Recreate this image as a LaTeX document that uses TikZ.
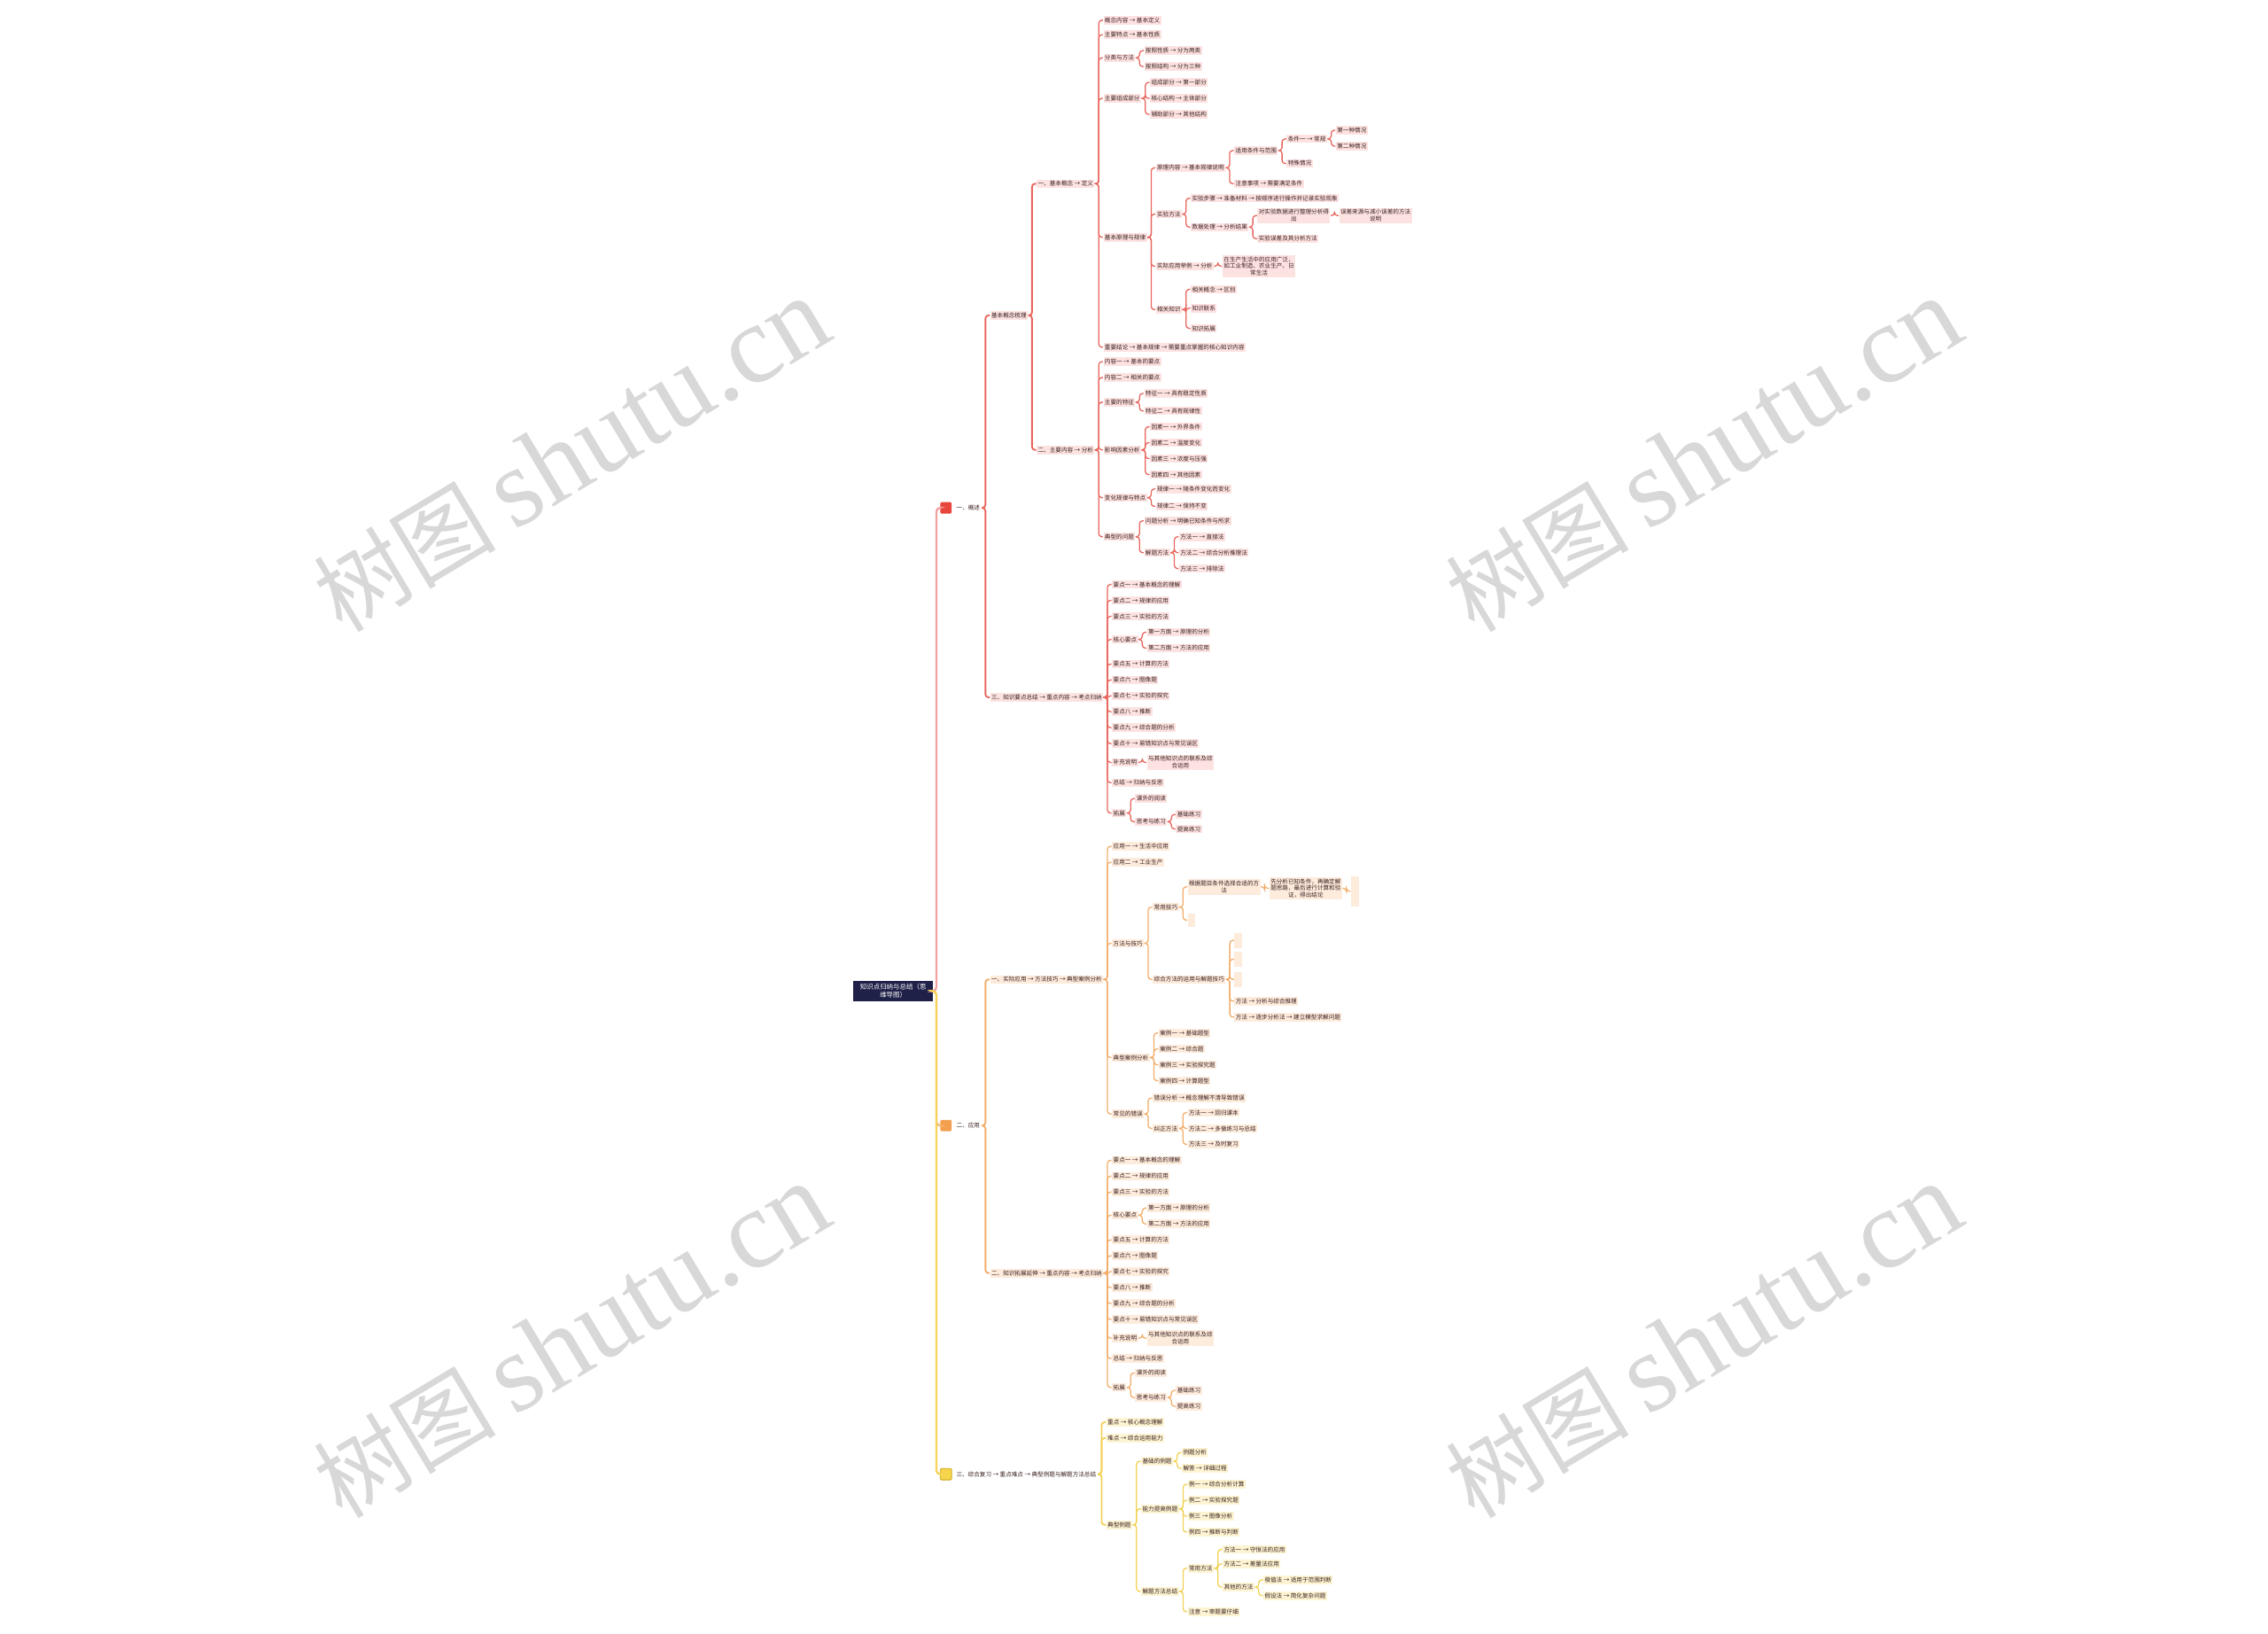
\documentclass[tikz,border=0pt]{standalone}
\usepackage{fontspec}
\newfontfamily\cjk{Noto Sans CJK SC}
\newfontfamily\wmlat{Liberation Serif}
\definecolor{navy}{HTML}{1F2148}
\definecolor{sqred}{HTML}{E8453C}
\definecolor{sqor}{HTML}{F3A04E}
\definecolor{sqye}{HTML}{F7D54A}
\definecolor{yedge}{HTML}{C9A420}
\definecolor{rline}{HTML}{E8675E}
\definecolor{rfill}{HTML}{FCE3E1}
\definecolor{oline}{HTML}{F2AE6C}
\definecolor{ofill}{HTML}{FDEBDC}
\definecolor{yline}{HTML}{F2D255}
\definecolor{yfill}{HTML}{FCF4D2}
\definecolor{txt}{HTML}{3B2020}
\definecolor{spineR}{HTML}{F2A0A0}
\definecolor{spineO}{HTML}{F4B878}
\definecolor{spineY}{HTML}{F6D45C}
\definecolor{wmgray}{HTML}{D8D8D8}
\newcommand\kd[5][]{%
  \path (#2.east) ++(5.5,0) coordinate (kdtmp);
  \node[nd,#1] (#3) at (kdtmp |- 0,#4) {#5};
  \draw[ln] (#2.east) -- ++(2.6,0) |- (#3.west);
}
\newcommand\kdw[5][]{%
  \path (#2.east) ++(5.5,0) coordinate (kdtmp);
  \node[nd,#1] (#3) at (kdtmp |- 0,#4) {#5};
  \draw[ln, line width=0.65pt] (#2.east) -- ++(2.6,0) |- (#3.west);
}
\tikzset{
  base/.style={anchor=west, inner xsep=0.5pt, inner ysep=0.6pt, text=txt, align=center,
    font=\cjk\fontsize{2.3}{2.75}\selectfont},
  rootbox/.style={fill=navy, text=white, align=center, minimum width=31.3pt, minimum height=8pt,
    inner sep=0.5pt, font=\cjk\fontsize{2.6}{3.1}\selectfont},
  sq/.style={minimum size=4.5pt, inner sep=0pt, rounded corners=0.5pt},
  spine/.style={line width=0.8pt, rounded corners=1.5pt},
  wm/.style={text=wmgray, inner sep=0pt}
}
\begin{document}
\begin{tikzpicture}[x=0.02cm,y=-0.02cm]
\fill[white] (0,0) rectangle (1568,1129);
\useasboundingbox (0,0) rectangle (1568,1129);

% watermarks
\foreach \wx/\wy in {395/315, 1178/315, 395/927, 1178/927}{
  \node[wm, rotate=31] at (\wx,\wy) {{\cjk\fontsize{36}{38}\selectfont 树图}\hspace{7pt}{\wmlat\fontsize{44}{46}\selectfont shutu.cn}};
}

% root and level-1 squares
\node[rootbox] (root) at (617.5,685) {知识点归纳与总结（思\\维导图）};
\node[sq, fill=sqred] (R) at (654,351) {};
\node[sq, fill=sqor] (O) at (654,778) {};
\node[sq, fill=sqye, draw=yedge, line width=0.3pt] (Y) at (654,1019) {};
\draw[spine, draw=spineR] (root.east) -- ++(2,0) |- (R.west);
\draw[spine, draw=spineO] (root.east) -- ++(2,0) |- (O.west);
\draw[spine, draw=spineY] (root.east) -- ++(2,0) |- (Y.west);

% ===== red branch =====
\begin{scope}[nd/.style={base, fill=rfill}, ln/.style={draw=rline, line width=0.45pt, rounded corners=1.2pt}]
\node[base] (Rl) at ([xshift=1pt]R.east) {一、概述};
\kdw{Rl}{A1}{218}{基本概念梳理}
\kdw{A1}{A1a}{127}{一、基本概念 → 定义}
\kd{A1a}{r1}{14}{概念内容 → 基本定义}
\kd{A1a}{r2}{24}{主要特点 → 基本性质}
\kd{A1a}{r3}{40}{分类与方法}
\kd{r3}{r4}{35}{按照性质 → 分为两类}
\kd{r3}{r5}{46}{按照结构 → 分为三种}
\kd{A1a}{r6}{68}{主要组成部分}
\kd{r6}{r7}{57}{组成部分 → 第一部分}
\kd{r6}{r8}{68}{核心结构 → 主体部分}
\kd{r6}{r9}{79}{辅助部分 → 其他结构}
\kd{A1a}{r10}{164}{基本原理与规律}
\kd{r10}{r11}{116}{原理内容 → 基本规律说明}
\kd{r11}{r12}{104}{适用条件与范围}
\kd{r12}{r13}{96}{条件一 → 常规}
\kd{r13}{r14}{90}{第一种情况}
\kd{r13}{r15}{101}{第二种情况}
\kd{r12}{r16}{113}{特殊情况}
\kd{r11}{r17}{127}{注意事项 → 需要满足条件}
\kd{r10}{r18}{148}{实验方法}
\kd{r18}{r19}{137}{实验步骤 → 准备材料 → 按顺序进行操作并记录实验现象}
\kd{r18}{r20}{157}{数据处理 → 分析结果}
\kd{r20}{r21}{149}{对实验数据进行整理分析得\\出}
\kd{r21}{r22}{149}{误差来源与减小误差的方法\\说明}
\kd{r20}{r23}{165}{实验误差及其分析方法}
\kd{r10}{r24}{184}{实际应用举例 → 分析}
\kd{r24}{r25}{184}{在生产生活中的应用广泛，\\如工业制造、农业生产、日\\常生活}
\kd{r10}{r26}{214}{相关知识}
\kd{r26}{r27}{200}{相关概念 → 区别}
\kd{r26}{r28}{213}{知识联系}
\kd{r26}{r29}{227}{知识拓展}
\kd{A1a}{r30}{240}{重要结论 → 基本规律 → 需要重点掌握的核心知识内容}
\kdw{A1}{A1b}{311}{二、主要内容 → 分析}
\kd{A1b}{r31}{250}{内容一 → 基本的要点}
\kd{A1b}{r32}{261}{内容二 → 相关的要点}
\kd{A1b}{r33}{278}{主要的特征}
\kd{r33}{r34}{272}{特征一 → 具有稳定性质}
\kd{r33}{r35}{284}{特征二 → 具有规律性}
\kd{A1b}{r36}{311}{影响因素分析}
\kd{r36}{r37}{295}{因素一 → 外界条件}
\kd{r36}{r38}{306}{因素二 → 温度变化}
\kd{r36}{r39}{317}{因素三 → 浓度与压强}
\kd{r36}{r40}{328}{因素四 → 其他因素}
\kd{A1b}{r41}{344}{变化规律与特点}
\kd{r41}{r42}{338}{规律一 → 随条件变化而变化}
\kd{r41}{r43}{350}{规律二 → 保持不变}
\kd{A1b}{r44}{371}{典型的问题}
\kd{r44}{r45}{360}{问题分析 → 明确已知条件与所求}
\kd{r44}{r46}{382}{解题方法}
\kd{r46}{r47}{371}{方法一 → 直接法}
\kd{r46}{r48}{382}{方法二 → 综合分析推理法}
\kd{r46}{r49}{393}{方法三 → 排除法}
\kdw{Rl}{A2}{482}{三、知识要点总结 → 重点内容 → 考点归纳}
\kd{A2}{s1}{404}{要点一 → 基本概念的理解}
\kd{A2}{s2}{415}{要点二 → 规律的应用}
\kd{A2}{s3}{426}{要点三 → 实验的方法}
\kd{A2}{s4}{442}{核心要点}
\kd{s4}{s5}{437}{第一方面 → 原理的分析}
\kd{s4}{s6}{448}{第二方面 → 方法的应用}
\kd{A2}{s7}{459}{要点五 → 计算的方法}
\kd{A2}{s8}{470}{要点六 → 图像题}
\kd{A2}{s9}{481}{要点七 → 实验的探究}
\kd{A2}{s10}{492}{要点八 → 推断}
\kd{A2}{s11}{503}{要点九 → 综合题的分析}
\kd{A2}{s12}{514}{要点十 → 易错知识点与常见误区}
\kd{A2}{s13}{527}{补充说明}
\kd{s13}{s14}{527}{与其他知识点的联系及综\\合运用}
\kd{A2}{s15}{541}{总结 → 归纳与反思}
\kd{A2}{s16}{562}{拓展}
\kd{s16}{s17}{552}{课外的阅读}
\kd{s16}{s18}{568}{思考与练习}
\kd{s18}{s19}{563}{基础练习}
\kd{s18}{s20}{573}{提高练习}
\end{scope}

% ===== orange branch =====
\begin{scope}[nd/.style={base, fill=ofill}, ln/.style={draw=oline, line width=0.45pt, rounded corners=1.2pt}]
\node[base] (Ol) at ([xshift=1pt]O.east) {二、应用};
\kdw{Ol}{B1}{677}{一、实际应用 → 方法技巧 → 典型案例分析}
\kd{B1}{o1}{585}{应用一 → 生活中应用}
\kd{B1}{o2}{596}{应用二 → 工业生产}
\kd{B1}{o3}{652}{方法与技巧}
\kd{o3}{o4}{627}{常用技巧}
\kd{o4}{o5}{613}{根据题目条件选择合适的方\\法}
\kd{o5}{o6}{614}{先分析已知条件，再确定解\\题思路，最后进行计算和验\\证，得出结论}
\kd[minimum width=3pt, minimum height=12pt]{o6}{o7}{616}{}
\kd[minimum width=3pt, minimum height=5pt]{o4}{o8}{636}{}
\kd{o3}{o9}{677}{综合方法的运用与解题技巧}
\kd[minimum width=3pt, minimum height=6pt]{o9}{o10}{650}{}
\kd[minimum width=3pt, minimum height=6pt]{o9}{o11}{663}{}
\kd[minimum width=3pt, minimum height=6pt]{o9}{o12}{677}{}
\kd{o9}{o13}{692}{方法 → 分析与综合推理}
\kd{o9}{o14}{703}{方法 → 逐步分析法 → 建立模型求解问题}
\kd{B1}{o15}{731}{典型案例分析}
\kd{o15}{o16}{714}{案例一 → 基础题型}
\kd{o15}{o17}{725}{案例二 → 综合题}
\kd{o15}{o18}{736}{案例三 → 实验探究题}
\kd{o15}{o19}{747}{案例四 → 计算题型}
\kd{B1}{o20}{770}{常见的错误}
\kd{o20}{o21}{759}{错误分析 → 概念理解不清导致错误}
\kd{o20}{o22}{780}{纠正方法}
\kd{o22}{o23}{769}{方法一 → 回归课本}
\kd{o22}{o24}{780}{方法二 → 多做练习与总结}
\kd{o22}{o25}{791}{方法三 → 及时复习}
\kdw{Ol}{B2}{880}{二、知识拓展延伸 → 重点内容 → 考点归纳}
\kd{B2}{t1}{802}{要点一 → 基本概念的理解}
\kd{B2}{t2}{813}{要点二 → 规律的应用}
\kd{B2}{t3}{824}{要点三 → 实验的方法}
\kd{B2}{t4}{840}{核心要点}
\kd{t4}{t5}{835}{第一方面 → 原理的分析}
\kd{t4}{t6}{846}{第二方面 → 方法的应用}
\kd{B2}{t7}{857}{要点五 → 计算的方法}
\kd{B2}{t8}{868}{要点六 → 图像题}
\kd{B2}{t9}{879}{要点七 → 实验的探究}
\kd{B2}{t10}{890}{要点八 → 推断}
\kd{B2}{t11}{901}{要点九 → 综合题的分析}
\kd{B2}{t12}{912}{要点十 → 易错知识点与常见误区}
\kd{B2}{t13}{925}{补充说明}
\kd{t13}{t14}{925}{与其他知识点的联系及综\\合运用}
\kd{B2}{t15}{939}{总结 → 归纳与反思}
\kd{B2}{t16}{959}{拓展}
\kd{t16}{t17}{949}{课外的阅读}
\kd{t16}{t18}{966}{思考与练习}
\kd{t18}{t19}{961}{基础练习}
\kd{t18}{t20}{972}{提高练习}
\end{scope}

% ===== yellow branch =====
\begin{scope}[nd/.style={base, fill=yfill}, ln/.style={draw=yline, line width=0.45pt, rounded corners=1.2pt}]
\node[base] (Yl) at ([xshift=1pt]Y.east) {三、综合复习 → 重点难点 → 典型例题与解题方法总结};
\kdw{Yl}{y1}{983}{重点 → 核心概念理解}
\kdw{Yl}{y2}{994}{难点 → 综合运用能力}
\kdw{Yl}{y3}{1054}{典型例题}
\kd{y3}{y4}{1010}{基础的例题}
\kd{y4}{y5}{1004}{例题分析}
\kd{y4}{y6}{1015}{解答 → 详细过程}
\kd{y3}{y7}{1043}{能力提高例题}
\kd{y7}{y8}{1026}{例一 → 综合分析计算}
\kd{y7}{y9}{1037}{例二 → 实验探究题}
\kd{y7}{y10}{1048}{例三 → 图像分析}
\kd{y7}{y11}{1059}{例四 → 推断与判断}
\kd{y3}{y12}{1100}{解题方法总结}
\kd{y12}{y13}{1084}{常用方法}
\kd{y13}{y14}{1071}{方法一 → 守恒法的应用}
\kd{y13}{y15}{1081}{方法二 → 差量法应用}
\kd{y13}{y16}{1097}{其他的方法}
\kd{y16}{y17}{1092}{极值法 → 适用于范围判断}
\kd{y16}{y18}{1103}{假设法 → 简化复杂问题}
\kd{y12}{y19}{1114}{注意 → 审题要仔细}
\end{scope}
\end{tikzpicture}
\end{document}
